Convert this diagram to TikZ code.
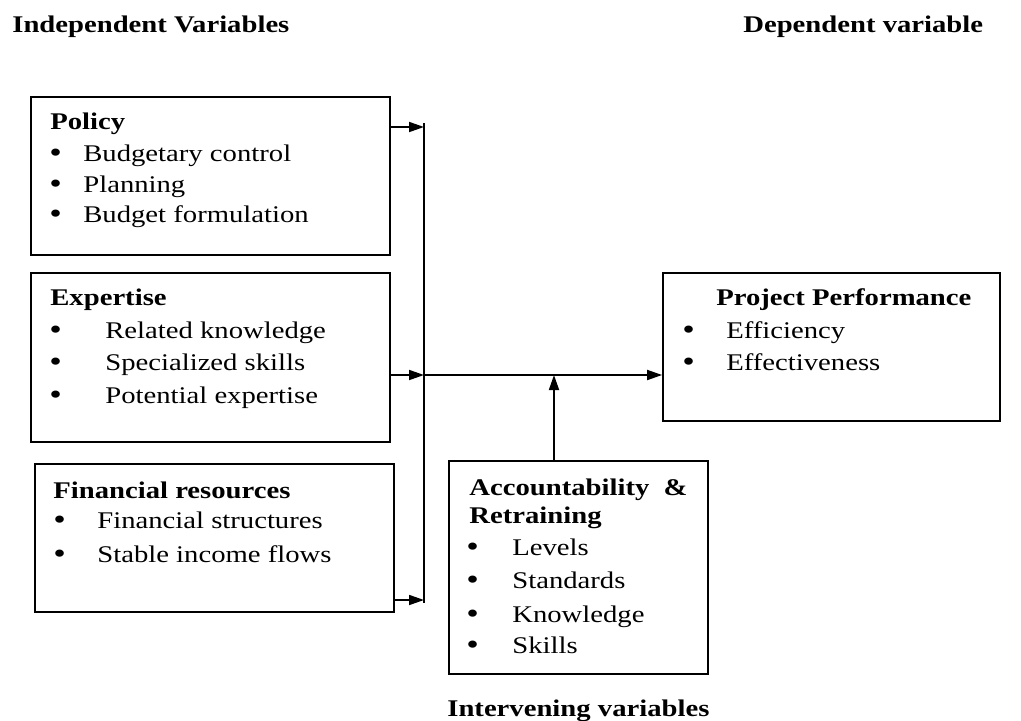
\documentclass[tikz,border=0pt]{standalone}
\usepackage{fontspec}
\setmainfont{Liberation Serif}[FakeStretch=1.2]
\usetikzlibrary{arrows.meta}

\begin{document}
\begin{tikzpicture}[x=.2mm,y=-.2mm,font=\fontsize{13.6}{16}\selectfont]
\tikzset{box/.style={draw,line width=1pt,inner sep=0},
 head/.style={anchor=base west,inner sep=0,font=\fontsize{13.6}{16}\selectfont\bfseries},
 item/.style={anchor=base west,inner sep=0},
 dot/.style={anchor=base west,inner sep=0,yshift=-.3mm,font=\fontsize{17}{18}\selectfont},
 wire/.style={line width=1pt},
 arr/.style={line width=1pt,-{Triangle[length=3mm,width=2mm]}}}
\useasboundingbox (0,0) rectangle (1021,721);
% column titles
\node[head] (indep) at (12,32) {Independent Variables};
\node[head] (dep) at (743,32) {Dependent variable};
\node[head] (interv) at (447,716) {Intervening variables};
% boxes
\node[box,minimum width=71.8mm,minimum height=31.6mm] (policy) at (210.5,176) {};
\node[box,minimum width=71.8mm,minimum height=33.8mm] (expert) at (210.5,357.5) {};
\node[box,minimum width=71.8mm,minimum height=29.6mm] (finance) at (214.5,538) {};
\node[box,minimum width=67.4mm,minimum height=29.6mm] (project) at (831.5,347) {};
\node[box,minimum width=51.8mm,minimum height=42.6mm] (account) at (578.5,567.5) {};
% box contents
\node[head] (policy-h) at (50,129) {Policy};
\foreach \t/\y [count=\i] in {Budgetary control/161,Planning/192,Budget formulation/222}{
 \node[dot] (policy-b\i) at (49,\y) {\textbullet};
 \node[item] (policy-\i) at (83,\y) {\t};
}
\node[head] (expert-h) at (50,305) {Expertise};
\foreach \t/\y [count=\i] in {Related knowledge/338,Specialized skills/370,Potential expertise/403}{
 \node[dot] (expert-b\i) at (49,\y) {\textbullet};
 \node[item] (expert-\i) at (105,\y) {\t};
}
\node[head] (finance-h) at (53,498) {Financial resources};
\foreach \t/\y [count=\i] in {Financial structures/528,Stable income flows/562}{
 \node[dot] (finance-b\i) at (53,\y) {\textbullet};
 \node[item] (finance-\i) at (97,\y) {\t};
}
\node[head] (project-h) at (716,305) {Project Performance};
\foreach \t/\y [count=\i] in {Efficiency/338,Effectiveness/370}{
 \node[dot] (project-b\i) at (682,\y) {\textbullet};
 \node[item] (project-\i) at (726,\y) {\t};
}
\node[head] (account-h1) at (469,495) {Accountability\ \ \&};
\node[head] (account-h2) at (469,523) {Retraining};
\foreach \t/\y [count=\i] in {Levels/555,Standards/588,Knowledge/622,Skills/653}{
 \node[dot] (account-b\i) at (466,\y) {\textbullet};
 \node[item] (account-\i) at (512,\y) {\t};
}
% collecting line and arrows
\coordinate (bus1) at (424,127);
\coordinate (bus2) at (424,375);
\coordinate (bus3) at (424,600);
\coordinate (join) at (554,375);
\draw[wire] ([yshift=.8mm]bus1) -- ([yshift=-.6mm]bus3);
\draw[arr] (policy.east |- bus1) -- (bus1);
\draw[arr] (expert.east |- bus2) -- (bus2);
\draw[arr] (finance.east |- bus3) -- (bus3);
\draw[arr] (bus2) -- (project.west |- bus2);
\draw[arr] (account.north -| join) -- (join);
\end{tikzpicture}
\end{document}
